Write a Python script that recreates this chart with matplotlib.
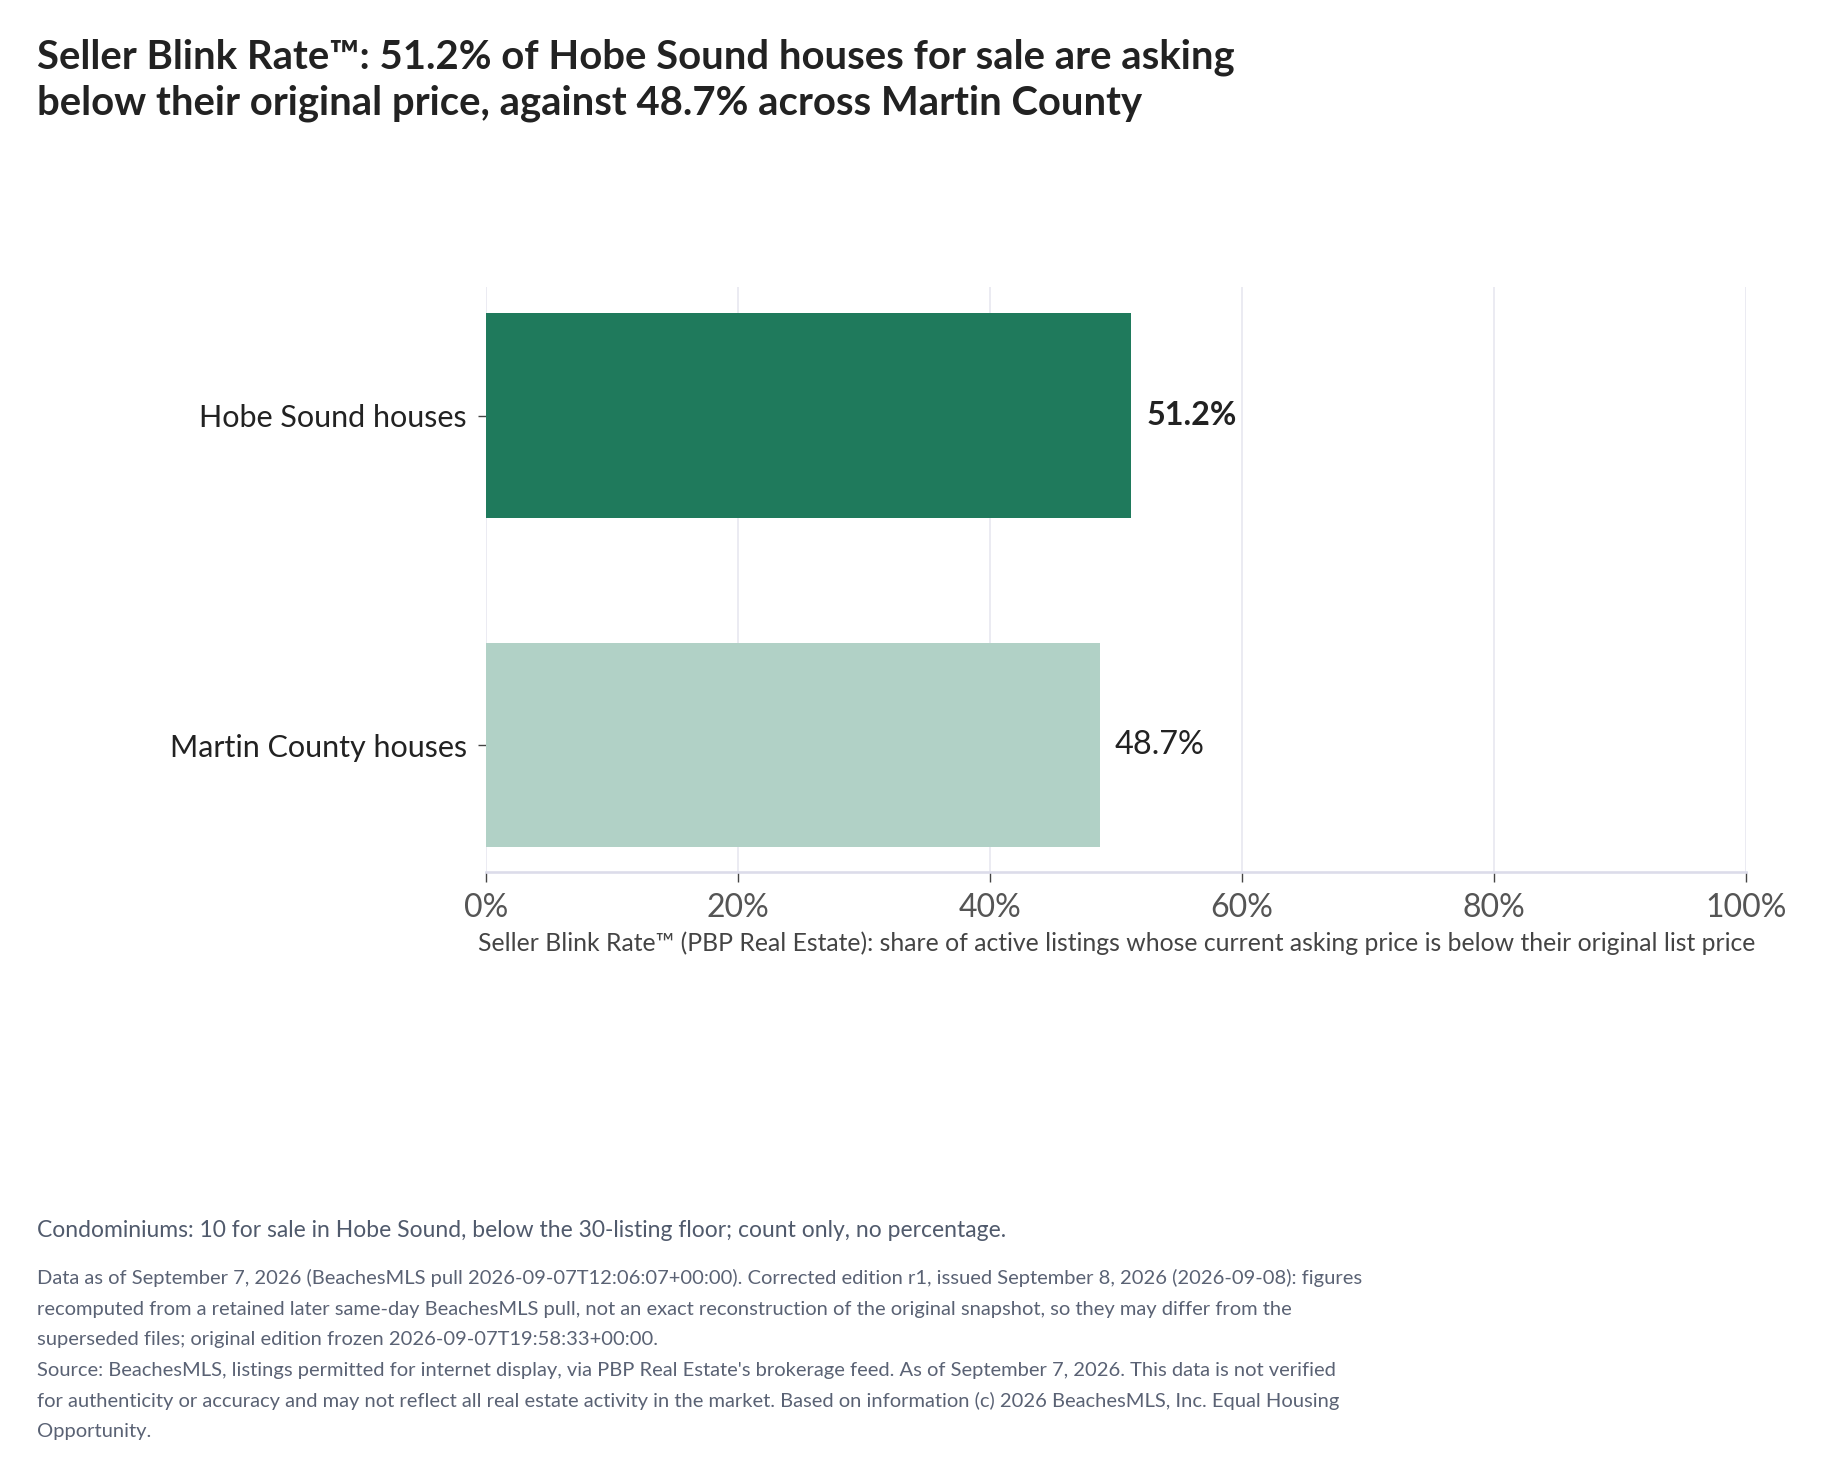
import matplotlib
matplotlib.use("Agg")
import matplotlib.pyplot as plt

# ---- data ----
categories = ["Hobe Sound houses", "Martin County houses"]
values = [51.2, 48.7]
bar_colors = ["#1f7a5c", "#b1d1c6"]
label_weights = ["bold", "normal"]
x_ticks = [0, 20, 40, 60, 80, 100]
x_tick_labels = ["0%", "20%", "40%", "60%", "80%", "100%"]

title_lines = [
    "Seller Blink Rate\u2122: 51.2% of Hobe Sound houses for sale are asking",
    "below their original price, against 48.7% across Martin County",
]
x_axis_title = ("Seller Blink Rate\u2122 (PBP Real Estate): share of active listings whose "
                "current asking price is below their original list price")
note_line = "Condominiums: 10 for sale in Hobe Sound, below the 30-listing floor; count only, no percentage."
footer_lines = [
    "Data as of September 7, 2026 (BeachesMLS pull 2026-09-07T12:06:07+00:00). Corrected edition r1, issued September 8, 2026 (2026-09-08): figures",
    "recomputed from a retained later same-day BeachesMLS pull, not an exact reconstruction of the original snapshot, so they may differ from the",
    "superseded files; original edition frozen 2026-09-07T19:58:33+00:00.",
    "Source: BeachesMLS, listings permitted for internet display, via PBP Real Estate's brokerage feed. As of September 7, 2026. This data is not verified",
    "for authenticity or accuracy and may not reflect all real estate activity in the market. Based on information (c) 2026 BeachesMLS, Inc. Equal Housing",
    "Opportunity.",
]

plt.rcParams["font.family"] = ["Lato", "DejaVu Sans"]

W, H = 1821, 1477
DPI = 100
fig = plt.figure(figsize=(W / DPI, H / DPI), dpi=DPI)
fig.patch.set_facecolor("white")

def fx(px):
    return px / W

def fy(py):
    return 1 - py / H

left, right, top, bottom = 486, 1746, 287, 872
ax = fig.add_axes([fx(left), fy(bottom), fx(right) - fx(left), (bottom - top) / H])

ypos = list(range(len(categories)))
ax.barh(ypos, values, height=0.62, color=bar_colors, zorder=3)

ax.set_xlim(0, 100)
ax.set_ylim(1.385, -0.39)
ax.set_xticks(x_ticks)
ax.set_xticklabels(x_tick_labels)
ax.set_yticks(ypos)
ax.set_yticklabels(categories)

for s in ["top", "right", "left"]:
    ax.spines[s].set_visible(False)
ax.spines["bottom"].set_color("#dcdcea")
ax.spines["bottom"].set_linewidth(1.9)
ax.spines["bottom"].set_zorder(4)

ax.grid(axis="x", color="#e5e5ef", linewidth=1.1, zorder=0)
ax.set_axisbelow(True)

ax.tick_params(axis="y", length=5.8, width=1.0, color="#444444", pad=8,
               labelsize=22, labelcolor="#222222")
ax.tick_params(axis="x", length=7.2, width=1.0, color="#444444", pad=8,
               labelsize=23, labelcolor="#555555")

for yv, v, w in zip(ypos, values, label_weights):
    ax.annotate(f"{v:.1f}%", xy=(v, yv), xytext=(11.0, 0), textcoords="offset points",
                ha="left", va="center", fontsize=23.3, fontweight=w, color="#222222")

# title
fig.text(fx(37), fy(68), title_lines[0], fontsize=28.8, fontweight="bold",
         color="#222222", ha="left", va="baseline")
fig.text(fx(37), fy(114), title_lines[1], fontsize=28.8, fontweight="bold",
         color="#222222", ha="left", va="baseline")

# axis title
fig.text(fx((left + right) / 2 + 1), fy(951), x_axis_title, fontsize=17.8,
         color="#444444", ha="center", va="baseline")

# notes
fig.text(fx(37), fy(1237), note_line, fontsize=16.5, color="#505a6c",
         ha="left", va="baseline")
base = 1284
for i, line in enumerate(footer_lines):
    fig.text(fx(37), fy(base + i * 30.7), line, fontsize=14.5, color="#5a6274",
             ha="left", va="baseline")

fig.savefig("out.png", dpi=DPI, facecolor="white")
